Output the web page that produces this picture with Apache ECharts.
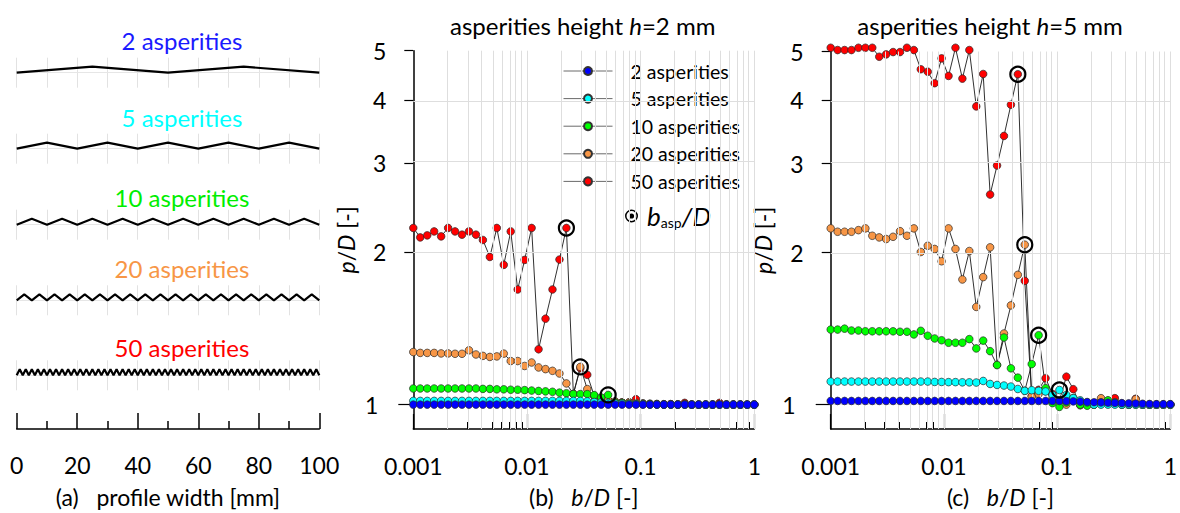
<!DOCTYPE html>
<html>
<head>
<meta charset="utf-8">
<script src="https://cdn.jsdelivr.net/npm/echarts@6/dist/echarts.min.js"></script>
<style>
  html, body { margin: 0; padding: 0; background: #fff; }
  #chart { width: 1180px; height: 513px; }
</style>
</head>
<body>
<div id="chart"></div>
<script>
// b/D sample points (same for every series)
const bOverD = [0.001, 0.001151, 0.001326, 0.001526, 0.001758, 0.002024, 0.00233, 0.002683, 0.003089, 0.003557,
  0.004095, 0.004715, 0.005429, 0.006251, 0.007197, 0.008286, 0.009541, 0.01099, 0.01265, 0.01456,
  0.01677, 0.01931, 0.02223, 0.0256, 0.02947, 0.03393, 0.03907, 0.04498, 0.05179, 0.05964,
  0.06866, 0.07906, 0.0910, 0.1048, 0.1207, 0.1390, 0.1600, 0.1842, 0.2121, 0.2442,
  0.2812, 0.3237, 0.3728, 0.4292, 0.4942, 0.5690, 0.6551, 0.7543, 0.8685, 1];

// p/D, asperities height h = 2 mm
const h2_50 = [2.233, 2.139, 2.159, 2.198, 2.149, 2.233, 2.198, 2.166, 2.198, 2.166,
  2.114, 1.957, 2.233, 1.888, 2.198, 1.688, 1.931, 2.233, 1.286, 1.478,
  1.688, 1.934, 2.233, 1.05, 1.18, 1.145, 1.04, 1.02, 1.015, 1.01,
  1.01, 1.01, 1.025, 1.005, 1.003, 1.002, 1.0, 1.002, 1.0, 1.008,
  1.0, 1.0, 1.0, 1.0, 1.008, 1.0, 1.0, 1.0, 1.0, 1.0];
const h2_20 = [1.270, 1.265, 1.265, 1.265, 1.262, 1.262, 1.26, 1.26, 1.28, 1.256,
  1.248, 1.242, 1.245, 1.261, 1.219, 1.219, 1.192, 1.211, 1.184, 1.175,
  1.166, 1.152, 1.101, 1.049, 1.187, 1.073, 1.04, 1.03, 1.02, 1.015,
  1.01, 1.01, 1.008, 1.005, 1.004, 1.003, 1.002, 1.002, 1.001, 1.003,
  1.0, 1.0, 1.0, 1.0, 1.002, 1.0, 1.0, 1.0, 1.0, 1.0];
const h2_10 = [1.076, 1.076, 1.076, 1.076, 1.076, 1.076, 1.076, 1.076, 1.076, 1.076,
  1.074, 1.074, 1.072, 1.072, 1.070, 1.070, 1.068, 1.066, 1.064, 1.062,
  1.06, 1.056, 1.053, 1.049, 1.049, 1.049, 1.044, 1.033, 1.045, 1.01,
  1.008, 1.005, 1.004, 1.003, 1.002, 1.001, 1.0, 1.0, 1.0, 1.0,
  1.0, 1.0, 1.0, 1.0, 1.0, 1.0, 1.0, 1.0, 1.0, 1.0];
const h2_5 = [1.017, 1.017, 1.017, 1.017, 1.017, 1.017, 1.017, 1.017, 1.017, 1.017,
  1.017, 1.017, 1.017, 1.017, 1.017, 1.017, 1.017, 1.017, 1.017, 1.017,
  1.017, 1.017, 1.017, 1.017, 1.017, 1.015, 1.012, 1.01, 1.008, 1.006,
  1.005, 1.003, 1.002, 1.001, 1.0, 1.0, 1.0, 1.0, 1.0, 1.0,
  1.0, 1.0, 1.0, 1.0, 1.0, 1.0, 1.0, 1.0, 1.0, 1.0];
const h2_2 = [1.0, 1.0, 1.0, 1.0, 1.0, 1.0, 1.0, 1.0, 1.0, 1.0,
  1.0, 1.0, 1.0, 1.0, 1.0, 1.0, 1.0, 1.0, 1.0, 1.0,
  1.0, 1.0, 1.0, 1.0, 1.0, 1.0, 1.0, 1.0, 1.0, 1.0,
  1.0, 1.0, 1.0, 1.0, 1.0, 1.0, 1.0, 1.0, 1.0, 1.0,
  1.0, 1.0, 1.0, 1.0, 1.0, 1.0, 1.0, 1.0, 1.0, 1.0];
const h2_basp = [[0.02223, 2.233], [0.02947, 1.187], [0.05179, 1.045]];

// p/D, asperities height h = 5 mm
const h5_50 = [5.086, 5.033, 5.033, 5.033, 5.086, 5.086, 5.086, 4.882, 4.935, 4.987,
  4.987, 5.086, 5.033, 4.611, 4.56, 4.327, 4.846, 4.473, 5.086, 4.419,
  5.033, 3.893, 4.513, 2.605, 2.974, 3.403, 3.923, 4.508, 1.758, 1.04,
  1.07, 1.128, 1.05, 1.02, 1.136, 1.073, 0.997, 1.0, 1.0, 1.005,
  1.018, 1.03, 1.005, 1.0, 1.027, 1.0, 1.0, 1.0, 1.0, 1.0];
const h5_20 = [2.233, 2.199, 2.199, 2.199, 2.215, 2.233, 2.159, 2.143, 2.127, 2.149,
  2.205, 2.159, 2.233, 2.005, 2.063, 2.033, 1.922, 2.233, 2.033, 1.769,
  2.014, 1.561, 1.788, 2.048, 1.198, 1.383, 1.572, 1.807, 2.073, 1.038,
  1.05, 1.063, 1.03, 1.007, 1.0, 1.02, 1.0, 1.0, 1.0, 1.03,
  1.01, 1.01, 1.0, 1.0, 1.025, 1.0, 1.0, 1.0, 1.0, 1.0];
const h5_10 = [1.408, 1.408, 1.414, 1.402, 1.402, 1.397, 1.397, 1.397, 1.397, 1.397,
  1.394, 1.394, 1.377, 1.40, 1.369, 1.352, 1.341, 1.326, 1.326, 1.326,
  1.348, 1.292, 1.339, 1.276, 1.198, 1.358, 1.18, 1.131, 1.065, 1.203,
  1.372, 1.078, 1.007, 0.99, 1.01, 1.03, 1.0, 0.995, 1.0, 1.01,
  1.02, 1.01, 1.0, 1.0, 1.0, 1.0, 1.0, 1.0, 1.0, 1.0];
const h5_5 = [1.111, 1.111, 1.111, 1.111, 1.111, 1.111, 1.111, 1.111, 1.111, 1.111,
  1.111, 1.111, 1.111, 1.111, 1.111, 1.109, 1.109, 1.108, 1.108, 1.107,
  1.107, 1.106, 1.114, 1.099, 1.094, 1.091, 1.086, 1.074, 1.065, 1.068,
  1.065, 1.062, 1.045, 1.069, 1.045, 1.03, 1.02, 1.01, 1.0, 1.0,
  1.0, 1.0, 1.0, 1.0, 1.0, 1.0, 1.0, 1.0, 1.0, 1.0];
const h5_2 = [1.017, 1.017, 1.017, 1.017, 1.017, 1.017, 1.017, 1.017, 1.017, 1.017,
  1.017, 1.017, 1.017, 1.017, 1.017, 1.017, 1.017, 1.017, 1.017, 1.017,
  1.017, 1.017, 1.017, 1.017, 1.017, 1.017, 1.017, 1.017, 1.017, 1.017,
  1.017, 1.017, 1.017, 1.017, 1.016, 1.015, 1.014, 1.012, 1.011, 1.01,
  1.009, 1.008, 1.007, 1.006, 1.005, 1.004, 1.003, 1.002, 1.002, 1.002];
const h5_basp = [[0.04498, 4.508], [0.05179, 2.073], [0.06866, 1.372], [0.1048, 1.069]];

const seriesNames = ['50 asperities', '20 asperities', '10 asperities', '5 asperities', '2 asperities'];
const seriesColors = ['#ff0000', '#f79646', '#00ff00', '#00ffff', '#0000ff'];
const h2Series = [h2_50, h2_20, h2_10, h2_5, h2_2];
const h5Series = [h5_50, h5_20, h5_10, h5_5, h5_2];

// profiles in panel (a)
const asperityCounts = [2, 5, 10, 20, 50];
const profileLabels = ['2 asperities', '5 asperities', '10 asperities', '20 asperities', '50 asperities'];
const profileColors = ['#1a1aff', '#00ffff', '#00ee00', '#f79646', '#ff0000'];
const xTickLabels = ['0.001', '0.01', '0.1', '1'];
const yTickLabels = [1, 2, 3, 4, 5];

const FONT = 'Lato, "Open Sans", sans-serif';
const lg = Math.log10;

const grid = [];
const xAxis = [];
const yAxis = [];
const series = [];
const graphic = [];

// ---- panel (a) ----
const valleys = [72.7, 148.7, 224.7, 300.3, 375.3];
const labelY = [40, 117, 197, 268, 347];
asperityCounts.forEach((n, k) => {
  grid.push({ left: 16.7, width: 302.6, top: valleys[k] - 15, height: 30 });
  xAxis.push({ gridIndex: k, type: 'value', min: 0, max: 100, interval: 10,
    axisLine: { show: false }, axisTick: { show: false }, axisLabel: { show: false },
    splitLine: { show: true, lineStyle: { color: '#e2e2e2', width: 1 } } });
  yAxis.push({ gridIndex: k, type: 'value', min: -2.5, max: 2.5, show: false });
  const pts = [];
  for (let j = 0; j <= 2 * n; j++) pts.push([j * 50 / n, j % 2]);
  series.push({ type: 'line', xAxisIndex: k, yAxisIndex: k, data: pts, symbol: 'none',
    lineStyle: { color: '#000', width: 2.2 }, silent: true, z: 3,
    markLine: { silent: true, symbol: ['none', 'none'], label: { show: false },
      lineStyle: { color: '#e6e6e6', type: 'solid', width: 1 }, data: [{ yAxis: 0 }], z: 1 } });
  graphic.push({ type: 'text', x: 182, y: labelY[k],
    style: { text: profileLabels[k], fill: profileColors[k], fontSize: 24, fontFamily: FONT,
      align: 'center', verticalAlign: 'middle' } });
});
grid.push({ left: 16.7, width: 302.6, top: 380, height: 49 });
xAxis.push({ gridIndex: 5, type: 'value', min: 0, max: 100, interval: 20,
  axisLine: { lineStyle: { color: '#000', width: 1.5 } },
  axisTick: { inside: true, length: 16, lineStyle: { color: '#000', width: 1.5 } },
  minorTick: { show: true, splitNumber: 2, length: 8, lineStyle: { color: '#000', width: 1.5 } },
  axisLabel: { margin: 24, fontSize: 23, color: '#000', fontFamily: FONT },
  splitLine: { show: false },
  name: '(a)   profile width [mm]', nameLocation: 'middle', nameGap: 56,
  nameTextStyle: { fontSize: 23, color: '#000', fontFamily: FONT } });
yAxis.push({ gridIndex: 5, type: 'value', show: false });

// ---- panels (b) and (c) ----
const minorX = [];
for (let k = -3; k < 0; k++) for (let m = 2; m <= 9; m++) minorX.push(lg(m) + k);
const yMin = -0.0482, yMax = lg(5);

function addLogPanel(gi, box, data, basp, hLabel, panelTag, titleX) {
  grid.push(box);
  const xi = xAxis.length, yi = yAxis.length;
  xAxis.push({ gridIndex: gi, type: 'value', min: -3, max: 0, interval: 1, position: 'bottom',
    axisLine: { onZero: false, lineStyle: { color: '#000', width: 1.5 } },
    axisTick: { inside: true, length: 15, lineStyle: { color: '#000', width: 1.2 } },
    axisLabel: { margin: 25, fontSize: 23, color: '#000', fontFamily: FONT,
      formatter: v => xTickLabels[Math.round(v) + 3] },
    splitLine: { show: false },
    name: '(' + panelTag + ')   {i|b}/{i|D} [-]', nameLocation: 'middle', nameGap: 56,
    nameTextStyle: { fontSize: 23, color: '#000', fontFamily: FONT,
      rich: { i: { fontStyle: 'italic', fontSize: 23, fontFamily: FONT, color: '#000' } } } });
  xAxis.push({ gridIndex: gi, type: 'value', min: -3, max: 0, position: 'bottom',
    axisLine: { show: false, onZero: false },
    axisTick: { inside: true, length: 7, customValues: minorX, lineStyle: { color: '#000', width: 1 } },
    axisLabel: { show: false }, splitLine: { show: false } });
  yAxis.push({ gridIndex: gi, type: 'value', min: yMin, max: yMax, position: 'left',
    axisLine: { show: true, onZero: false, lineStyle: { color: '#000', width: 1.5 } },
    axisTick: { show: true, length: 9, customValues: yTickLabels.slice(1).map(lg), lineStyle: { color: '#000', width: 1.2 } },
    axisLabel: { margin: 27, fontSize: 23, color: '#000', fontFamily: FONT,
      customValues: yTickLabels.slice(1).map(lg), formatter: v => String(Math.round(Math.pow(10, v))) },
    splitLine: { show: false },
    name: '{i|p}/{i|D} [-]', nameLocation: 'middle', nameGap: 56, nameRotate: 90,
    nameTextStyle: { fontSize: 23, color: '#000', fontFamily: FONT,
      rich: { i: { fontStyle: 'italic', fontSize: 23, fontFamily: FONT, color: '#000' } } } });
  yAxis.push({ gridIndex: gi, type: 'value', min: yMin, max: yMax, position: 'left',
    axisLine: { show: false, onZero: false },
    axisTick: { show: true, length: 15, customValues: [0], lineStyle: { color: '#000', width: 1.2 } },
    axisLabel: { margin: 35, fontSize: 23, color: '#000', fontFamily: FONT,
      customValues: [0], formatter: () => '1' },
    splitLine: { show: false } });

  // light grid lines
  const gl = minorX.concat([-2, -1, 0]).map(v => ({ xAxis: v }))
    .concat(yTickLabels.map(v => ({ yAxis: lg(v) })));
  series.push({ type: 'line', xAxisIndex: xi, yAxisIndex: yi, data: [], silent: true, z: 1,
    markLine: { silent: true, symbol: ['none', 'none'], label: { show: false }, animation: false,
      lineStyle: { color: '#dedede', type: 'solid', width: 1 }, data: gl } });

  // connecting lines first (below all markers), then markers
  data.forEach((arr, s) => {
    series.push({ name: seriesNames[s], type: 'line', xAxisIndex: xi, yAxisIndex: yi,
      data: bOverD.map((b, i) => [lg(b), lg(arr[i])]),
      symbol: 'none', clip: false, z: 2, silent: true,
      itemStyle: { color: seriesColors[s], borderColor: '#333', borderWidth: 0.6, opacity: 1 },
      lineStyle: { color: '#1a1a1a', width: 0.9 } });
  });
  data.forEach((arr, s) => {
    series.push({ name: seriesNames[s], type: 'scatter', xAxisIndex: xi, yAxisIndex: yi,
      data: bOverD.map((b, i) => [lg(b), lg(arr[i])]),
      symbol: 'circle', symbolSize: 7.6, clip: false, z: 3 + s,
      itemStyle: { color: seriesColors[s], borderColor: '#2a2a2a', borderWidth: 0.7, opacity: 1 },
      emphasis: { disabled: true } });
  });
  series.push({ name: 'b_asp', type: 'scatter', xAxisIndex: xi, yAxisIndex: yi,
    data: basp.map(p => [lg(p[0]), lg(p[1])]), symbol: 'circle', symbolSize: 15, clip: false, z: 10,
    itemStyle: { color: 'rgba(0,0,0,0)', borderColor: '#000', borderWidth: 2.2, opacity: 1 },
    emphasis: { disabled: true } });

  graphic.push({ type: 'text', x: titleX, y: 25,
    style: { text: 'asperities height {i|h}=' + hLabel + ' mm', fill: '#000', fontSize: 24, fontFamily: FONT,
      align: 'center', verticalAlign: 'middle',
      rich: { i: { fontStyle: 'italic', fontSize: 24, fontFamily: FONT, fill: '#000' } } } });
}

addLogPanel(6, { left: 413.3, top: 50.7, width: 341, height: 379.3 }, h2Series, h2_basp, '2', 'b', 582.7);
addLogPanel(7, { left: 830.7, top: 51.5, width: 340, height: 379 }, h5Series, h5_basp, '5', 'c', 990);

const ringDot = 'path://M6,0A6,6,0,1,1,6,12A6,6,0,1,1,6,0ZM6,1.4A4.6,4.6,0,1,0,6,10.6A4.6,4.6,0,1,0,6,1.4ZM6,3.6A2.4,2.4,0,1,1,6,8.4A2.4,2.4,0,1,1,6,3.6Z';

const option = {
  animation: false,
  textStyle: { fontFamily: FONT },
  grid, xAxis, yAxis, series, graphic,
  legend: [
    { orient: 'vertical', left: 558, top: 56, itemWidth: 49, itemHeight: 10, itemGap: 7.6,
      data: ['2 asperities', '5 asperities', '10 asperities', '20 asperities', '50 asperities'],
      lineStyle: { color: '#6a6a6a', width: 1 },
      textStyle: { fontSize: 19.5, lineHeight: 20, color: '#000', fontFamily: FONT, padding: [0, 0, 0, 13] },
      selectedMode: false },
    { orient: 'vertical', left: 620, top: 198, itemWidth: 13, itemHeight: 13,
      data: [{ name: 'b_asp', icon: ringDot, itemStyle: { color: '#000', borderWidth: 0 } }],
      formatter: () => '{i|b}{s|asp}{i|/D}',
      textStyle: { color: '#000', fontFamily: FONT, padding: [0, 0, 0, 4],
        rich: { i: { fontStyle: 'italic', fontSize: 26, fontFamily: FONT, color: '#000' },
                s: { fontSize: 14, fontFamily: FONT, color: '#000', padding: [12, 0, 0, 0] } } },
      selectedMode: false }
  ]
};

const chart = echarts.init(document.getElementById('chart'), null, { renderer: 'svg' });
chart.setOption(option);
</script>
</body>
</html>
